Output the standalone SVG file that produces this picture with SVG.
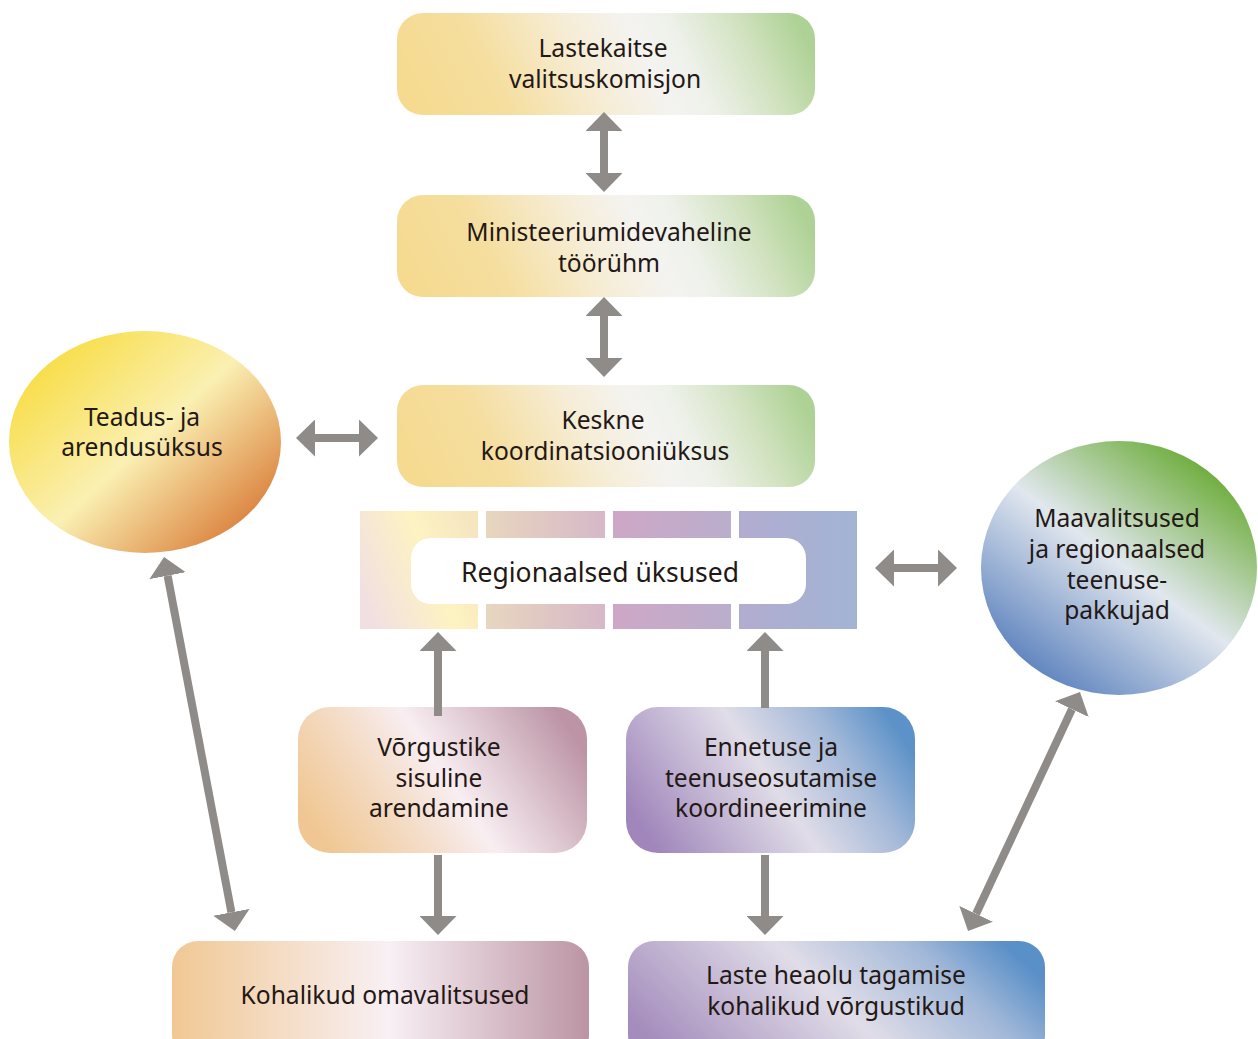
<svg xmlns="http://www.w3.org/2000/svg" width="1258" height="1039" viewBox="0 0 1258 1039">
<style>
text{font-family:"Noto Sans","Open Sans",sans-serif;font-size:24.6px;fill:#231815;text-anchor:middle}
.ar{stroke:#8e8b88;stroke-width:8;fill:none}
</style>
<defs>
<marker id="h" markerUnits="userSpaceOnUse" markerWidth="20" markerHeight="37" refX="0" refY="18.5" orient="auto-start-reverse" viewBox="0 0 20 37"><path d="M0,0 L19,18.5 L0,37 z" fill="#8e8b88"/></marker>
<linearGradient id="gy" x1="0" y1="0.56" x2="1" y2="0.44"><stop offset="0" stop-color="#f5da90"/><stop offset="0.22" stop-color="#f5de9f"/><stop offset="0.45" stop-color="#f6edd6"/><stop offset="0.6" stop-color="#f4f3f0"/><stop offset="0.7" stop-color="#eef1ea"/><stop offset="0.85" stop-color="#d3e3c2"/><stop offset="1" stop-color="#aed295"/></linearGradient>
<linearGradient id="gt" x1="0.1" y1="0.1" x2="0.95" y2="0.85"><stop offset="0" stop-color="#f8dc40"/><stop offset="0.5" stop-color="#faf0b2"/><stop offset="1" stop-color="#d97a36"/></linearGradient>
<linearGradient id="gm" x1="0.2" y1="0.9" x2="0.85" y2="0.1"><stop offset="0" stop-color="#6387c0"/><stop offset="0.5" stop-color="#e1e7ee"/><stop offset="1" stop-color="#6aab36"/></linearGradient>
<linearGradient id="gv" x1="0" y1="0.67" x2="1" y2="0.33"><stop offset="0" stop-color="#f0c792"/><stop offset="0.3" stop-color="#f4dcc6"/><stop offset="0.52" stop-color="#f8eef2"/><stop offset="0.75" stop-color="#dcc4ce"/><stop offset="1" stop-color="#bc94a6"/></linearGradient>
<linearGradient id="ge" x1="0" y1="0.67" x2="1" y2="0.33"><stop offset="0" stop-color="#a086bb"/><stop offset="0.5" stop-color="#e0dde8"/><stop offset="0.78" stop-color="#a2b8d8"/><stop offset="1" stop-color="#5c92c8"/></linearGradient>
<linearGradient id="gk" x1="0" y1="0" x2="1" y2="0"><stop offset="0" stop-color="#f1c894"/><stop offset="0.52" stop-color="#f8f0f4"/><stop offset="1" stop-color="#bc94a4"/></linearGradient>
<linearGradient id="gl" x1="0" y1="0.65" x2="1" y2="0.35"><stop offset="0" stop-color="#a48cbc"/><stop offset="0.5" stop-color="#e0dde8"/><stop offset="0.8" stop-color="#a2b8d8"/><stop offset="1" stop-color="#5a90c8"/></linearGradient>
<linearGradient id="s1" x1="0" y1="0.7" x2="1" y2="0.3"><stop offset="0" stop-color="#f1dfe2"/><stop offset="0.6" stop-color="#fdf3c2"/><stop offset="1" stop-color="#f6e6c0"/></linearGradient>
<linearGradient id="s2" x1="0" y1="0" x2="1" y2="0"><stop offset="0" stop-color="#e8d6bf"/><stop offset="1" stop-color="#d6b8c8"/></linearGradient>
<linearGradient id="s3" x1="0" y1="0" x2="1" y2="0"><stop offset="0" stop-color="#cfa7c6"/><stop offset="1" stop-color="#b9aecc"/></linearGradient>
<linearGradient id="s4" x1="0" y1="0" x2="1" y2="0"><stop offset="0" stop-color="#b2acd0"/><stop offset="1" stop-color="#a2b4d4"/></linearGradient>
</defs>
<rect width="1258" height="1039" fill="#fff"/>

<g id="lastekaitse"><rect x="397" y="13" width="418" height="102" rx="26" fill="url(#gy)"/><text x="603" y="57">Lastekaitse</text><text x="605" y="88">valitsuskomisjon</text></g>
<g id="ministeerium"><rect x="397" y="195" width="418" height="102" rx="26" fill="url(#gy)"/><text x="609" y="241">Ministeeriumidevaheline</text><text x="609" y="272">töörühm</text></g>
<g id="keskne"><rect x="397" y="385" width="418" height="102" rx="26" fill="url(#gy)"/><text x="603" y="429">Keskne</text><text x="605" y="460">koordinatsiooniüksus</text></g>
<g id="teadus"><ellipse cx="145" cy="442" rx="136" ry="111" fill="url(#gt)"/><text x="142" y="426">Teadus- ja</text><text x="142" y="456">arendusüksus</text></g>
<g id="regionaalsed"><rect x="360" y="511" width="118" height="118" fill="url(#s1)"/><rect x="486" y="511" width="119" height="118" fill="url(#s2)"/><rect x="613" y="511" width="118" height="118" fill="url(#s3)"/><rect x="739" y="511" width="118" height="118" fill="url(#s4)"/><rect x="411" y="538" width="395" height="66" rx="20" fill="#fff"/><text x="600" y="582" style="font-size:26.5px">Regionaalsed üksused</text></g>
<g id="maavalitsused"><ellipse cx="1119" cy="568" rx="138" ry="127" fill="url(#gm)"/><text x="1117" y="527">Maavalitsused</text><text x="1117" y="558">ja regionaalsed</text><text x="1117" y="589">teenuse-</text><text x="1117" y="619">pakkujad</text></g>
<g id="vorgustike"><rect x="298" y="707" width="289" height="146" rx="32" fill="url(#gv)"/><text x="439" y="756">Võrgustike</text><text x="439" y="787">sisuline</text><text x="439" y="817">arendamine</text></g>
<g id="ennetuse"><rect x="626" y="707" width="289" height="146" rx="32" fill="url(#ge)"/><text x="771" y="756">Ennetuse ja</text><text x="771" y="787">teenuseosutamise</text><text x="771" y="817">koordineerimine</text></g>
<g id="kohalikud"><rect x="172" y="941" width="417" height="120" rx="26" fill="url(#gk)"/><text x="385" y="1004">Kohalikud omavalitsused</text></g>
<g id="laste"><rect x="628" y="941" width="417" height="120" rx="26" fill="url(#gl)"/><text x="836" y="984">Laste heaolu tagamise</text><text x="836" y="1015">kohalikud võrgustikud</text></g>

<g id="connectors">
<line class="ar" x1="604" y1="131" x2="604" y2="173" marker-start="url(#h)" marker-end="url(#h)"/>
<line class="ar" x1="604" y1="316" x2="604" y2="358" marker-start="url(#h)" marker-end="url(#h)"/>
<line class="ar" x1="315" y1="438" x2="359" y2="438" marker-start="url(#h)" marker-end="url(#h)"/>
<line class="ar" x1="894" y1="568" x2="938" y2="568" marker-start="url(#h)" marker-end="url(#h)"/>
<line class="ar" x1="438" y1="716" x2="438" y2="651" marker-end="url(#h)"/>
<line class="ar" x1="765" y1="708" x2="765" y2="651" marker-end="url(#h)"/>
<line class="ar" x1="438" y1="855" x2="438" y2="916" marker-end="url(#h)"/>
<line class="ar" x1="765" y1="855" x2="765" y2="916" marker-end="url(#h)"/>
<line class="ar" x1="167.6" y1="575.7" x2="231.4" y2="912.3" marker-start="url(#h)" marker-end="url(#h)"/>
<line class="ar" x1="1071.9" y1="709.2" x2="976.1" y2="913.8" marker-start="url(#h)" marker-end="url(#h)"/>
</g>
</svg>
